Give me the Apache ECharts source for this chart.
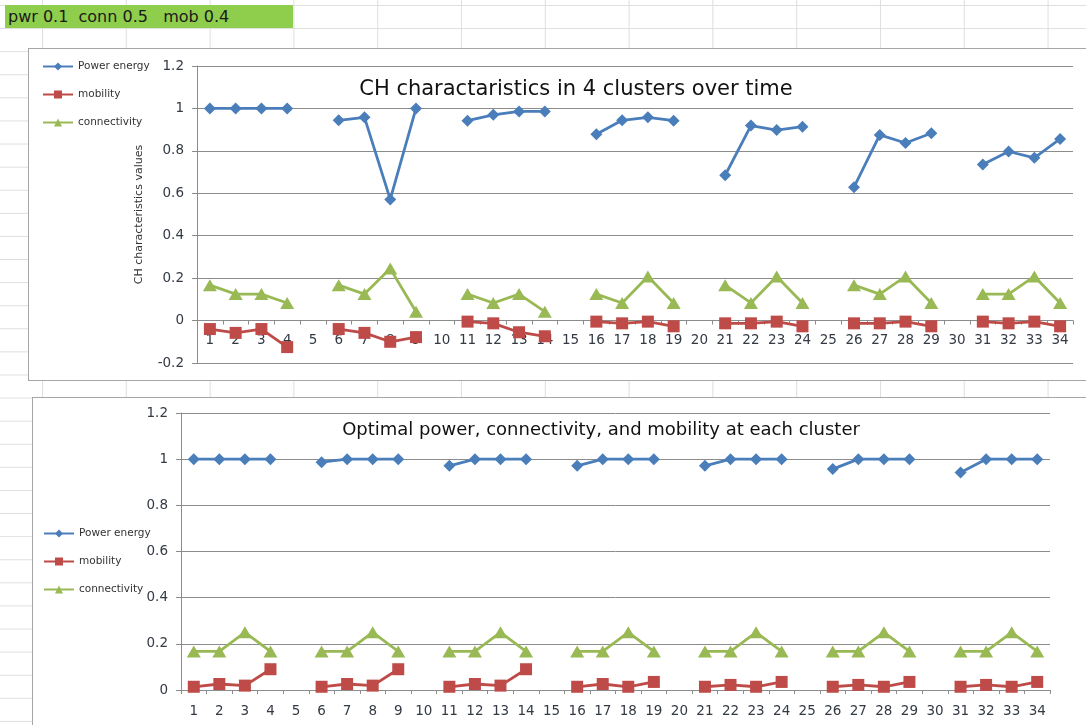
<!DOCTYPE html>
<html>
<head>
<meta charset="utf-8">
<script src="https://cdn.jsdelivr.net/npm/echarts@6/dist/echarts.min.js"></script>
<style>
  html, body { margin: 0; padding: 0; }
  body {
    width: 1086px; height: 725px; overflow: hidden; position: relative;
    background-color: #ffffff;
    background-image:
      linear-gradient(to right, #dedede 0, #dedede 1px, transparent 1px),
      linear-gradient(to bottom, #dedede 0, #dedede 1px, transparent 1px);
    background-size: 83.8px 23.1px, 83.8px 23.1px;
    background-position: 42px 5px, 42px 5px;
    font-family: "DejaVu Sans", sans-serif;
  }
  #cell {
    position: absolute; left: 5px; top: 5px; width: 288px; height: 23px;
    background: #8fcd4c; color: #1a1a1a; font-size: 16px; line-height: 23px;
    padding-left: 3px; box-sizing: border-box; white-space: pre;
  }
  .box { position: absolute; background: #fff; border: 1.5px solid #a6a6a6; box-sizing: border-box; }
  #box1 { left: 28px; top: 48px; width: 1070px; height: 333px; }
  #box2 { left: 32px; top: 397px; width: 1070px; height: 340px; }
  #chart { position: absolute; left: 0; top: 0; width: 1086px; height: 725px; }
</style>
</head>
<body>
<div id="cell">pwr 0.1  conn 0.5   mob 0.4</div>
<div class="box" id="box1"></div>
<div class="box" id="box2"></div>
<div id="chart"></div>
<script>
const categories = ['1','2','3','4','5','6','7','8','9','10','11','12','13','14','15','16','17','18','19','20','21','22','23','24','25','26','27','28','29','30','31','32','33','34'];
const seriesNames = ['Power energy', 'mobility', 'connectivity'];

const powerTop = [1,1,1,1,null,0.944,0.958,0.571,1,null,0.942,0.970,0.986,0.986,null,0.878,0.944,0.958,0.942,null,0.685,0.919,0.898,0.914,null,0.629,0.875,0.837,0.883,null,0.736,0.797,0.767,0.856];
const mobilityTop = [-0.040,-0.058,-0.040,-0.125,null,-0.040,-0.058,-0.100,-0.078,null,-0.005,-0.013,-0.055,-0.074,null,-0.005,-0.013,-0.005,-0.027,null,-0.013,-0.013,-0.005,-0.027,null,-0.013,-0.013,-0.005,-0.027,null,-0.005,-0.013,-0.005,-0.027];
const connectivityTop = [0.167,0.125,0.125,0.083,null,0.167,0.125,0.245,0.042,null,0.125,0.083,0.125,0.042,null,0.125,0.083,0.208,0.083,null,0.167,0.083,0.208,0.083,null,0.167,0.125,0.208,0.083,null,0.125,0.125,0.208,0.083];

const powerBottom = [1,1,1,1,null,0.987,1,1,1,null,0.971,1,1,1,null,0.971,1,1,1,null,0.971,1,1,1,null,0.957,1,1,1,null,0.942,1,1,1];
const mobilityBottom = [0.014,0.026,0.019,0.090,null,0.014,0.026,0.019,0.090,null,0.014,0.026,0.019,0.090,null,0.014,0.026,0.014,0.035,null,0.014,0.022,0.014,0.035,null,0.014,0.022,0.014,0.035,null,0.014,0.022,0.014,0.035];
const connectivityBottom = [0.167,0.167,0.250,0.167,null,0.167,0.167,0.250,0.167,null,0.167,0.167,0.250,0.167,null,0.167,0.167,0.250,0.167,null,0.167,0.167,0.250,0.167,null,0.167,0.167,0.250,0.167,null,0.167,0.167,0.250,0.167];

const titleTop = 'CH charactaristics in 4 clusters over time';
const titleBottom = 'Optimal power, connectivity, and mobility at each cluster';
const yNameTop = 'CH characteristics values';

const FONT = '"DejaVu Sans", sans-serif';
const COLORS = ['#4a7ebb', '#be4b48', '#98b954'];
const SYMBOLS = ['diamond', 'rect', 'triangle'];
const SIZES = [[12, 12], [12, 12], [14, 12]];
const GRIDC = '#8c8c8c';
const TXT = '#333a44';

// grid geometry (top chart)
const TOP_T = 66, TOP_B = 362, H = 725;
const topPlotH = H - TOP_T - TOP_B;
const zeroOffset = -topPlotH * 0.2 / 1.4;

function xAxis(gridIndex, extra) {
  return Object.assign({
    type: 'category', gridIndex, data: categories, boundaryGap: true,
    axisLine: { onZero: false, lineStyle: { color: GRIDC, width: 1 } },
    axisTick: { show: true, length: 4, lineStyle: { color: GRIDC } },
    axisLabel: { color: TXT, fontSize: 13.5, fontFamily: FONT, margin: 13, interval: 0 },
    splitLine: { show: false }
  }, extra || {});
}
function yAxis(gridIndex, min, extra) {
  return Object.assign({
    type: 'value', gridIndex, min, max: 1.2, interval: 0.2,
    axisLine: { show: true, lineStyle: { color: GRIDC, width: 1 } },
    axisTick: { show: true, length: 5, lineStyle: { color: GRIDC } },
    axisLabel: { color: TXT, fontSize: 13.5, fontFamily: FONT, margin: 13 },
    splitLine: { show: true, lineStyle: { color: GRIDC, width: 1 } }
  }, extra || {});
}
function mk(i, data, idx) {
  return {
    name: seriesNames[i], type: 'line', xAxisIndex: idx, yAxisIndex: idx,
    data, connectNulls: false, symbol: SYMBOLS[i], symbolSize: SIZES[i],
    showAllSymbol: true, animation: false,
    lineStyle: { color: COLORS[i], width: 2.8 },
    itemStyle: { color: COLORS[i] }
  };
}
function legend(left, top) {
  return {
    orient: 'vertical', left, top, itemWidth: 30, itemHeight: 10, itemGap: 17,
    data: seriesNames, selectedMode: false,
    textStyle: { fontSize: 10.5, color: '#333', fontFamily: FONT }
  };
}

const chart = echarts.init(document.getElementById('chart'), null, { renderer: 'canvas' });
chart.setOption({
  animation: false,
  title: [
    { text: titleTop, left: 571, top: 74, textAlign: 'center',
      textStyle: { fontSize: 21, fontWeight: 'normal', color: '#111', fontFamily: FONT } },
    { text: titleBottom, left: 596, top: 416, textAlign: 'center',
      textStyle: { fontSize: 18, fontWeight: 'normal', color: '#111', fontFamily: FONT } }
  ],
  legend: [legend(37, 56), legend(38, 523)],
  grid: [
    { left: 197, right: 13, top: TOP_T, bottom: TOP_B },
    { left: 181, right: 36, top: 413, bottom: 35 }
  ],
  xAxis: [xAxis(0, { offset: zeroOffset }), xAxis(1, { axisLabel: { color: TXT, fontSize: 13.5, fontFamily: FONT, margin: 14, interval: 0 } })],
  yAxis: [
    yAxis(0, -0.2, { name: yNameTop, nameLocation: 'middle', nameGap: 52,
      nameTextStyle: { fontSize: 11, color: '#333', fontFamily: FONT } }),
    yAxis(1, 0)
  ],
  series: [
    mk(0, powerTop, 0), mk(1, mobilityTop, 0), mk(2, connectivityTop, 0),
    mk(0, powerBottom, 1), mk(1, mobilityBottom, 1), mk(2, connectivityBottom, 1)
  ]
});
</script>
</body>
</html>
